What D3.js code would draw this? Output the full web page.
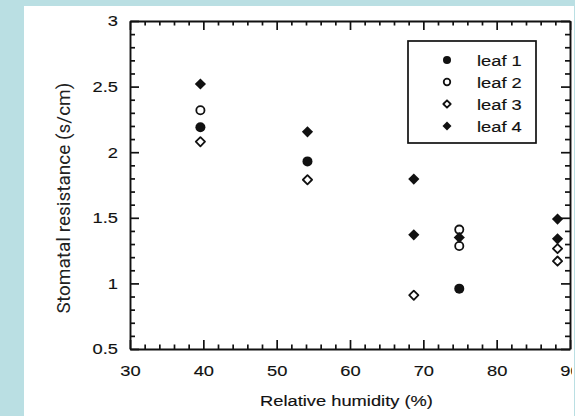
<!DOCTYPE html>
<html>
<head>
<meta charset="utf-8">
<script src="https://cdn.jsdelivr.net/npm/d3@7"></script>
<style>
  html, body { margin: 0; padding: 0; background: #badfe3; }
  svg { display: block; }
</style>
</head>
<body>
<svg id="chart" width="575" height="416"></svg>
<script>
// Stomatal resistance (s/cm) against relative humidity (%), four leaves
const leafNames = ["leaf 1", "leaf 2", "leaf 3", "leaf 4"];
const leafShapes = ["filledCircle", "openCircle", "openDiamond", "filledDiamond"];

const leaf1Humidity = [39.6, 54.2, 74.9];
const leaf1Resistance = [2.19, 1.93, 0.96];

const leaf2Humidity = [39.6, 74.9, 74.9];
const leaf2Resistance = [2.32, 1.41, 1.285];

const leaf3Humidity = [39.6, 54.2, 68.7, 88.3, 88.3];
const leaf3Resistance = [2.08, 1.79, 0.91, 1.265, 1.17];

const leaf4Humidity = [39.6, 54.2, 68.7, 68.7, 74.9, 88.3, 88.3];
const leaf4Resistance = [2.52, 2.155, 1.795, 1.37, 1.35, 1.49, 1.34];

const xTickValues = [30, 40, 50, 60, 70, 80, 90];
const xTickLabels = ["30", "40", "50", "60", "70", "80", "90"];
const yTickValues = [0.5, 1, 1.5, 2, 2.5, 3];
const yTickLabels = ["0.5", "1", "1.5", "2", "2.5", "3"];

const xTitle = "Relative humidity  (%)";
const yTitle = "Stomatal resistance (s/cm)";

(function () {
const humidityBySeries = [leaf1Humidity, leaf2Humidity, leaf3Humidity, leaf4Humidity];
const resistanceBySeries = [leaf1Resistance, leaf2Resistance, leaf3Resistance, leaf4Resistance];

const svg = d3.select("#chart");
const ink = "#111";
const textFont = "'Liberation Sans', Arial, sans-serif";
const widen = 1.18; // horizontal stretch of the printed lettering

// white sheet on the tinted page; the plot is trimmed at the sheet's right edge
svg.append("defs").append("clipPath").attr("id", "sheet")
  .append("rect").attr("x", 24).attr("y", 6).attr("width", 548).attr("height", 410);
svg.append("rect").attr("x", 24).attr("y", 6).attr("width", 550).attr("height", 410).attr("fill", "#fff");

const g = svg.append("g").attr("clip-path", "url(#sheet)");

const x = d3.scaleLinear().domain([30, 90]).range([130, 570]);
const y = d3.scaleLinear().domain([0.5, 3]).range([349, 21]);

const xMinor = d3.range(30, 90.01, 2).filter(v => v % 10 !== 0);
const yMinor = d3.range(5, 30.01, 1).map(v => v / 10).filter(v => Math.abs(v * 2 - Math.round(v * 2)) > 1e-6);

function inkText(sel) {
  sel.attr("font-family", textFont)
    .attr("font-size", 15.5)
    .attr("fill", ink)
    .attr("stroke", ink)
    .attr("stroke-width", 0.15);
}

function styleAxis(sel) {
  sel.select(".domain").attr("stroke", ink).attr("stroke-width", 1.9);
  sel.selectAll(".tick line").attr("stroke", ink).attr("stroke-width", 1.7);
  inkText(sel.selectAll("text"));
}

// major ticks with labels (left, bottom), all ticks pointing inward
const fmtX = d => xTickLabels[xTickValues.indexOf(d)];
const fmtY = d => yTickLabels[yTickValues.indexOf(d)];

const axisB = g.append("g").attr("transform", `translate(0,${y(0.5)})`)
  .call(d3.axisBottom(x).tickValues(xTickValues).tickFormat(fmtX).tickSizeInner(-9).tickSizeOuter(0).tickPadding(16));
const axisL = g.append("g").attr("transform", `translate(${x(30)},0)`)
  .call(d3.axisLeft(y).tickValues(yTickValues).tickFormat(fmtY).tickSizeInner(-9).tickSizeOuter(0).tickPadding(12));
const axisT = g.append("g").attr("transform", `translate(0,${y(3)})`)
  .call(d3.axisTop(x).tickValues(xTickValues).tickFormat("").tickSizeInner(-9).tickSizeOuter(0));
const axisR = g.append("g").attr("transform", `translate(${x(90)},0)`)
  .call(d3.axisRight(y).tickValues(yTickValues).tickFormat("").tickSizeInner(-9).tickSizeOuter(0));
[axisB, axisL, axisT, axisR].forEach(styleAxis);

// minor ticks
const minorAxes = [
  g.append("g").attr("transform", `translate(0,${y(0.5)})`).call(d3.axisBottom(x).tickValues(xMinor).tickFormat("").tickSizeInner(-4.5).tickSizeOuter(0)),
  g.append("g").attr("transform", `translate(0,${y(3)})`).call(d3.axisTop(x).tickValues(xMinor).tickFormat("").tickSizeInner(-4.5).tickSizeOuter(0)),
  g.append("g").attr("transform", `translate(${x(30)},0)`).call(d3.axisLeft(y).tickValues(yMinor).tickFormat("").tickSizeInner(-5).tickSizeOuter(0)),
  g.append("g").attr("transform", `translate(${x(90)},0)`).call(d3.axisRight(y).tickValues(yMinor).tickFormat("").tickSizeInner(-5).tickSizeOuter(0))
];
minorAxes.forEach(a => { styleAxis(a); a.select(".domain").remove(); });

function stretchText(sel, factor) {
  sel.each(function () {
    const len = this.getComputedTextLength();
    if (len > 0) {
      this.setAttribute("textLength", len * factor);
      this.setAttribute("lengthAdjust", "spacingAndGlyphs");
    }
  });
}
stretchText(axisB.selectAll("text"), widen);
stretchText(axisL.selectAll("text"), widen);

// marker shapes
function drawMarker(sel, shape, cx, cy, s) {
  if (shape === "filledCircle") {
    sel.append("circle").attr("cx", cx).attr("cy", cy).attr("r", 5 * s).attr("fill", ink);
  } else if (shape === "openCircle") {
    sel.append("circle").attr("cx", cx).attr("cy", cy).attr("r", 4.1 * s)
      .attr("fill", "#fff").attr("stroke", ink).attr("stroke-width", 1.8);
  } else {
    const h = (shape === "filledDiamond" ? 5.6 : 4.6) * s;
    const path = d3.path();
    path.moveTo(cx, cy - h); path.lineTo(cx + h, cy); path.lineTo(cx, cy + h); path.lineTo(cx - h, cy); path.closePath();
    const p = sel.append("path").attr("d", path.toString());
    if (shape === "filledDiamond") p.attr("fill", ink);
    else p.attr("fill", "#fff").attr("stroke", ink).attr("stroke-width", 1.8).attr("stroke-linejoin", "round");
  }
}

const points = g.append("g");
leafNames.forEach((name, i) => {
  const hs = humidityBySeries[i], rs = resistanceBySeries[i];
  hs.forEach((h, j) => drawMarker(points, leafShapes[i], x(h), y(rs[j]), 1));
});

// legend
const legend = g.append("g");
legend.append("rect").attr("x", 408).attr("y", 41).attr("width", 128).attr("height", 102)
  .attr("fill", "#fff").attr("stroke", ink).attr("stroke-width", 1.7);
const legendRow = d3.scalePoint().domain(leafNames).range([60, 126]);
leafNames.forEach((name, i) => {
  drawMarker(legend, leafShapes[i], 447, legendRow(name), 0.8);
  legend.append("text").attr("x", 477).attr("y", legendRow(name)).attr("dy", "0.36em")
    .call(inkText).text(name);
});
stretchText(legend.selectAll("text"), widen);

// axis titles
const xt = g.append("text").attr("x", 346.5).attr("y", 406).attr("text-anchor", "middle")
  .call(inkText).text(xTitle);
stretchText(xt, widen);

g.append("text").attr("transform", "translate(70,198) rotate(-90)").attr("text-anchor", "middle")
  .attr("font-family", "Roboto, sans-serif").attr("font-size", 19).attr("fill", "#222").text(yTitle);
})();
</script>
</body>
</html>
